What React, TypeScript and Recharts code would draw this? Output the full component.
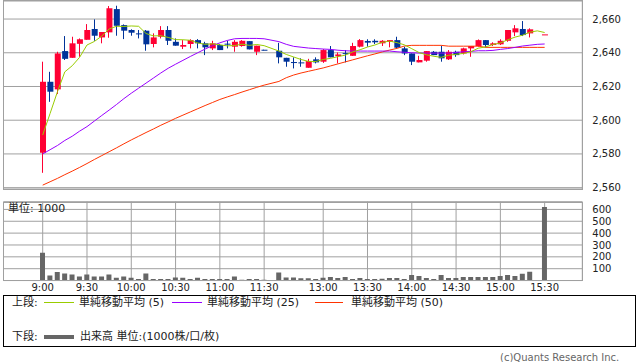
import React from 'react';
import { ComposedChart, Bar, Line, XAxis, YAxis, CartesianGrid } from 'recharts';

// 5-minute slots, 9:00 - 15:30 (index 31 is the lunch gap)
const times = [
  '9:00', '9:05', '9:10', '9:15', '9:20', '9:25', '9:30', '9:35', '9:40', '9:45', '9:50', '9:55',
  '10:00', '10:05', '10:10', '10:15', '10:20', '10:25', '10:30', '10:35', '10:40', '10:45', '10:50', '10:55',
  '11:00', '11:05', '11:10', '11:15', '11:20', '11:25', '11:30', '12:25',
  '12:30', '12:35', '12:40', '12:45', '12:50', '12:55',
  '13:00', '13:05', '13:10', '13:15', '13:20', '13:25', '13:30', '13:35', '13:40', '13:45', '13:50', '13:55',
  '14:00', '14:05', '14:10', '14:15', '14:20', '14:25', '14:30', '14:35', '14:40', '14:45', '14:50', '14:55',
  '15:00', '15:05', '15:10', '15:15', '15:20', '15:25', '15:30',
];

const tickLabels = ['9:00', '9:30', '10:00', '10:30', '11:00', '11:30', '13:00', '13:30', '14:00', '14:30', '15:00', '15:30'];
const priceTicks = [2560, 2580, 2600, 2620, 2640, 2660];
const volumeTicks = [100, 200, 300, 400, 500, 600];

const opens = [
  2580.7, 2622.8, 2618.3, 2641.0, 2637.0, 2645.3, 2647.7, 2654.1, 2649.1, 2652.1, 2665.9, 2656.4,
  2653.5, 2651.5, 2653.1, 2645.2, 2649.5, 2653.5, 2646.5, 2643.6, 2645.2, 2647.5, 2645.6, 2642.6,
  2644.6, 2645.4, 2643.6, 2644.0, 2646.9, 2640.6, 2641.8, null,
  2641.2, 2637.0, 2634.5, 2634.3, 2631.1, 2636.1,
  2634.7, 2641.6, 2638.0, 2639.8, 2638.2, 2643.6, 2647.0, 2647.1, 2645.6, 2646.5, 2647.5, 2642.6,
  2639.6, 2634.3, 2635.3, 2640.6, 2640.6, 2636.1, 2640.6, 2639.6, 2642.6, 2644.0, 2647.5, 2644.6,
  2645.0, 2647.1, 2652.1, 2654.1, 2651.5, null, 2650.9,
];
const highs = [
  2634.7, 2628.7, 2640.6, 2649.9, 2649.5, 2648.5, 2657.0, 2659.8, 2652.3, 2667.7, 2667.9, 2656.8,
  2653.9, 2653.5, 2653.5, 2651.5, 2655.8, 2655.8, 2648.5, 2647.5, 2648.0, 2648.1, 2646.5, 2647.1,
  2645.2, 2647.1, 2647.5, 2647.5, 2646.9, 2644.2, 2641.8, null,
  2645.9, 2637.0, 2637.3, 2636.7, 2636.4, 2637.3,
  2642.2, 2644.0, 2640.2, 2641.6, 2645.9, 2648.1, 2648.0, 2648.0, 2647.5, 2647.5, 2649.5, 2643.6,
  2639.6, 2638.2, 2641.0, 2641.0, 2644.2, 2641.6, 2641.2, 2643.0, 2644.0, 2647.9, 2647.5, 2646.2,
  2648.0, 2653.5, 2656.4, 2658.8, 2654.5, null, 2650.9,
];
const lows = [
  2568.8, 2610.9, 2615.5, 2635.7, 2637.0, 2637.6, 2647.7, 2647.1, 2645.6, 2648.9, 2650.1, 2648.1,
  2650.1, 2648.5, 2641.2, 2643.2, 2648.5, 2644.6, 2644.2, 2642.2, 2642.6, 2642.6, 2638.6, 2641.6,
  2641.6, 2642.6, 2640.6, 2643.6, 2642.0, 2638.6, 2641.4, null,
  2633.7, 2631.7, 2630.7, 2631.7, 2631.1, 2633.7,
  2634.0, 2637.3, 2633.7, 2634.3, 2638.2, 2643.2, 2643.6, 2645.2, 2644.0, 2643.2, 2642.6, 2638.6,
  2632.7, 2634.3, 2634.7, 2638.6, 2634.7, 2635.7, 2637.6, 2639.0, 2637.6, 2643.6, 2643.2, 2644.0,
  2644.6, 2646.5, 2649.9, 2649.9, 2649.1, null, 2650.9,
];
const closes = [
  2622.8, 2616.9, 2639.6, 2636.4, 2645.6, 2648.0, 2653.5, 2650.1, 2652.3, 2666.4, 2656.0, 2653.1,
  2651.9, 2650.9, 2645.0, 2649.1, 2653.5, 2647.1, 2644.2, 2644.6, 2647.5, 2645.6, 2643.2, 2645.6,
  2641.6, 2644.8, 2646.5, 2647.1, 2642.0, 2644.2, 2641.4, null,
  2637.3, 2634.7, 2634.2, 2633.7, 2635.1, 2634.3,
  2641.6, 2637.3, 2639.0, 2639.4, 2644.0, 2647.5, 2646.0, 2646.2, 2647.1, 2647.5, 2643.0, 2639.6,
  2634.7, 2635.7, 2641.0, 2638.6, 2636.7, 2640.6, 2638.6, 2642.6, 2644.0, 2647.5, 2644.6, 2645.6,
  2647.1, 2653.5, 2654.5, 2650.5, 2653.9, null, 2650.9,
];

const ma5 = [
  2591.2, 2604.0, 2616.9, 2628.7, 2632.3, 2637.3, 2644.6, 2646.7, 2649.9, 2654.1, 2655.7, 2655.6,
  2655.9, 2655.7, 2651.4, 2650.0, 2650.1, 2649.1, 2647.8, 2647.7, 2647.4, 2645.8, 2645.0, 2645.3,
  2644.7, 2644.1, 2644.3, 2645.1, 2644.4, 2644.9, 2644.2, null,
  2641.0, 2639.0, 2637.5, 2636.0, 2634.9, 2634.8,
  2636.0, 2636.7, 2637.7, 2638.6, 2640.5, 2641.8, 2643.4, 2644.6, 2646.2, 2646.9, 2646.0, 2644.7,
  2642.4, 2640.1, 2638.8, 2637.9, 2637.3, 2638.5, 2639.1, 2639.6, 2640.6, 2642.7, 2643.5, 2644.9,
  2645.8, 2647.7, 2649.3, 2650.4, 2652.2, 2653.0, 2652.0,
];
const ma25 = [
  2580.0, 2582.5, 2585.0, 2588.0, 2590.5, 2593.5, 2596.2, 2599.5, 2602.8, 2606.0, 2609.3, 2612.8,
  2616.0, 2619.0, 2622.0, 2625.0, 2628.0, 2630.8, 2633.2, 2635.5, 2637.8, 2640.0, 2642.2, 2644.2,
  2645.9, 2647.3, 2648.3, 2648.5, 2648.5, 2648.5, 2648.3, null,
  2646.6, 2645.0, 2643.8, 2643.3, 2642.8, 2642.5,
  2642.2, 2642.0, 2641.5, 2641.2, 2641.0, 2641.0, 2641.0, 2641.0, 2641.0, 2641.0, 2640.6, 2640.3,
  2640.0, 2639.8, 2639.8, 2639.8, 2639.8, 2639.8, 2640.2, 2640.6, 2640.8, 2641.2, 2641.2, 2641.4,
  2642.0, 2642.5, 2643.2, 2644.0, 2644.5, 2645.0, 2645.2,
];
const ma50 = [
  2561.5, 2563.5, 2565.5, 2567.7, 2569.8, 2572.0, 2574.3, 2576.7, 2579.0, 2581.3, 2583.6, 2586.0,
  2588.3, 2590.5, 2592.7, 2594.8, 2597.0, 2599.0, 2601.1, 2603.0, 2604.9, 2606.8, 2608.7, 2610.5,
  2612.3, 2613.8, 2615.2, 2616.7, 2618.1, 2619.5, 2620.8, null,
  2623.0, 2625.2, 2626.8, 2628.0, 2629.0, 2630.0,
  2631.0, 2632.2, 2633.4, 2634.6, 2635.8, 2637.0, 2638.2, 2639.3, 2640.5, 2641.6, 2642.6, 2644.0,
  2644.4, 2644.4, 2644.4, 2644.4, 2644.4, 2643.9, 2643.9, 2643.9, 2643.9, 2643.9, 2643.2, 2643.2,
  2643.2, 2643.2, 2643.2, 2643.2, 2643.2, 2643.2, 2643.2,
];

const volumes = [
  235, 42, 73, 59, 50, 34, 50, 34, 34, 50, 23, 34,
  23, 14, 59, 14, 14, 14, 25, 23, 14, 23, 14, 14,
  14, 14, 34, 6, 14, 14, 6, null,
  67, 25, 25, 20, 20, 13,
  24, 29, 21, 29, 13, 21, 13, 13, 16, 21, 21, 13,
  46, 38, 21, 13, 46, 21, 21, 29, 29, 29, 29, 29,
  38, 46, 38, 57, 74, null, 620,
];

const RED = '#ff0033';
const BLUE = '#003399';
const GRID = '#a0a0a0';
const X_DOMAIN: [number, number] = [-5.31, 73.1];
const tickIdx = tickLabels.map((l) => times.indexOf(l));

const rows = times.map((t, i) => ({
  idx: i,
  time: t,
  open: opens[i],
  high: highs[i],
  low: lows[i],
  close: closes[i],
  range: opens[i] == null ? null : [lows[i], highs[i]],
  ma5: ma5[i],
  ma25: ma25[i],
  ma50: ma50[i],
  volume: volumes[i],
}));

const Candle = (props: any) => {
  const { x, y, width, height, payload } = props;
  if (!payload || payload.open == null || x == null) return null;
  const { open, close, high, low } = payload;
  const color = close >= open ? RED : BLUE;
  const top = Math.min(y, y + height);
  const h = Math.abs(height);
  const ratio = high > low ? h / (high - low) : 0;
  const yOf = (v: number) => top + (high - v) * ratio;
  const bTop = yOf(Math.max(open, close));
  const bBot = yOf(Math.min(open, close));
  const cx = Math.round(x + width / 2) - 0.5;
  return (
    <g>
      <line x1={cx} x2={cx} y1={top} y2={top + h} stroke={color} strokeWidth={1} />
      <rect x={x} y={bTop} width={width} height={Math.max(1, bBot - bTop)} fill={color} />
    </g>
  );
};

const axisFont = { fontSize: 10, fill: '#222', fontFamily: 'DejaVu Sans' };
const jpFont = '"DejaVu Sans", "Noto Sans CJK JP", sans-serif';
const AXIS_W = 638 - 582.3;

export default function App() {
  return (
    <div style={{ position: 'absolute', left: 0, top: 0, width: 638, height: 362, background: '#fff', fontFamily: jpFont }}>
      <div style={{ position: 'absolute', left: 0, top: 0 }}>
        <ComposedChart width={638} height={195} data={rows} margin={{ top: 1, right: 0, bottom: 6, left: 3.5 }}>
          <CartesianGrid stroke={GRID} />
          <XAxis type="number" dataKey="idx" domain={X_DOMAIN} ticks={tickIdx} height={0} tick={false} tickLine={false} axisLine={false} allowDataOverflow />
          <YAxis orientation="right" domain={[2559.2, 2670.7]} ticks={priceTicks} allowDataOverflow interval={0}
            tickFormatter={(v: number) => v.toLocaleString('en-US')} width={AXIS_W} tickLine={false} axisLine={false}
            tickSize={0} tickMargin={10} tick={axisFont} />
          <Bar dataKey="range" shape={<Candle />} barSize={6} isAnimationActive={false} />
          <Line dataKey="ma50" stroke="#ff3300" strokeWidth={1} dot={false} connectNulls isAnimationActive={false} />
          <Line dataKey="ma25" stroke="#9900ff" strokeWidth={1} dot={false} connectNulls isAnimationActive={false} />
          <Line dataKey="ma5" stroke="#99cc00" strokeWidth={1} dot={false} connectNulls isAnimationActive={false} />
        </ComposedChart>
      </div>
      <div style={{ position: 'absolute', left: 3, top: 0, width: 580, height: 190, border: `1px solid ${GRID}`, boxSizing: 'border-box', pointerEvents: 'none' }} />

      <div style={{ position: 'absolute', left: 0, top: 195 }}>
        <ComposedChart width={638} height={100} data={rows} margin={{ top: 6.7, right: 0, bottom: 0, left: 3.5 }}>
          <CartesianGrid stroke={GRID} />
          <XAxis type="number" dataKey="idx" domain={X_DOMAIN} ticks={tickIdx} allowDataOverflow height={14.45}
            tickFormatter={(v: number) => times[v]} tickLine={false} axisLine={false} tickSize={0} tickMargin={3}
            tick={axisFont} interval={0} />
          <YAxis orientation="right" domain={[0, 665]} ticks={volumeTicks} allowDataOverflow width={AXIS_W} interval={0}
            tickLine={false} axisLine={false} tickSize={0} tickMargin={10} tick={axisFont} />
          <Bar dataKey="volume" fill="#666666" barSize={5} isAnimationActive={false} />
        </ComposedChart>
      </div>
      <div style={{ position: 'absolute', left: 3, top: 202, width: 580, height: 79, border: `1px solid ${GRID}`, boxSizing: 'border-box', pointerEvents: 'none' }} />
      <div style={{ position: 'absolute', left: 8, top: 202, fontSize: 11, lineHeight: '14px', color: '#222' }}>単位: 1000</div>

      <div style={{ position: 'absolute', left: 3, top: 295, width: 633, height: 52, border: '1px solid #000', boxSizing: 'border-box', fontSize: 11, color: '#222' }}>
        <div style={{ position: 'absolute', left: 8, top: 0, lineHeight: '14px' }}>上段:</div>
        <div style={{ position: 'absolute', left: 40, top: 6, width: 30, height: 1, background: '#99cc00' }} />
        <div style={{ position: 'absolute', left: 75, top: 0, lineHeight: '14px' }}>単純移動平均 (5)</div>
        <div style={{ position: 'absolute', left: 168, top: 6, width: 30, height: 1, background: '#9900ff' }} />
        <div style={{ position: 'absolute', left: 203, top: 0, lineHeight: '14px' }}>単純移動平均 (25)</div>
        <div style={{ position: 'absolute', left: 311, top: 6, width: 28, height: 1, background: '#ff3300' }} />
        <div style={{ position: 'absolute', left: 347, top: 0, lineHeight: '14px' }}>単純移動平均 (50)</div>
        <div style={{ position: 'absolute', left: 8, top: 34, lineHeight: '14px' }}>下段:</div>
        <div style={{ position: 'absolute', left: 40, top: 39, width: 30, height: 4, background: '#666666' }} />
        <div style={{ position: 'absolute', left: 76, top: 34, lineHeight: '14px' }}>出来高 単位:(1000株/口/枚)</div>
      </div>
      <div style={{ position: 'absolute', left: 500, top: 351, fontSize: 10, lineHeight: '13px', color: '#666', fontFamily: 'DejaVu Sans' }}>(c)Quants Research Inc.</div>
    </div>
  );
}
